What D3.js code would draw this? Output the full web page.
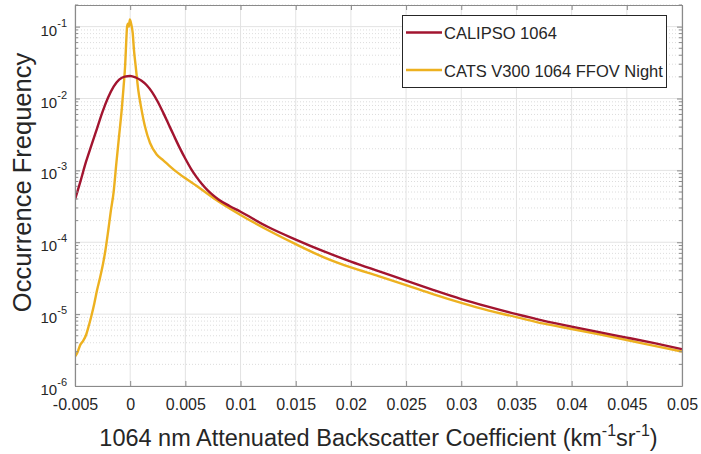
<!DOCTYPE html>
<html>
<head>
<meta charset="utf-8">
<script src="https://cdn.jsdelivr.net/npm/d3@7"></script>
<style>
  html, body { margin: 0; padding: 0; background: #fff; }
  text { font-family: "Liberation Sans", Arial, Helvetica, sans-serif; fill: #262626; }
</style>
</head>
<body>
<svg id="chart" width="701" height="454"></svg>
<script>
// ---------------- data ----------------
const seriesNames = ["CALIPSO 1064", "CATS V300 1064 FFOV Night"];
const seriesColors = ["#A2142F", "#EDB120"];

const calipsoX = [-0.005, -0.0045, -0.004, -0.0035, -0.003, -0.0025, -0.002, -0.0015, -0.001, -0.0005,
  0, 0.0005, 0.001, 0.0015, 0.002, 0.0025, 0.003, 0.0035, 0.004, 0.0045, 0.005, 0.0055, 0.006, 0.0065, 0.007, 0.0075,
  0.008, 0.009, 0.01, 0.0125, 0.015, 0.0175, 0.02, 0.0225, 0.025, 0.0275, 0.03, 0.0325, 0.035, 0.0375,
  0.04, 0.0425, 0.045, 0.0475, 0.05];
const calipsoY = [3.9e-4, 7.1e-4, 1.32e-3, 2.26e-3, 3.85e-3, 6.56e-3, 1.03e-2, 1.46e-2, 1.83e-2, 2.02e-2,
  2.06e-2, 1.96e-2, 1.78e-2, 1.53e-2, 1.22e-2, 9.02e-3, 6.31e-3, 4.32e-3, 2.95e-3, 2.04e-3, 1.45e-3, 1.06e-3, 8.13e-4, 6.46e-4, 5.31e-4, 4.52e-4,
  3.94e-4, 3.2e-4, 2.66e-4, 1.63e-4, 1.09e-4, 7.52e-5, 5.38e-5, 3.96e-5, 2.93e-5, 2.16e-5, 1.62e-5, 1.26e-5, 9.98e-6, 8.07e-6,
  6.7e-6, 5.61e-6, 4.72e-6, 3.95e-6, 3.26e-6];

const catsX = [-0.005, -0.0048, -0.0045, -0.00425, -0.004, -0.00375, -0.0035, -0.00325, -0.003, -0.00275,
  -0.0025, -0.00225, -0.002, -0.00175, -0.0015, -0.00125, -0.001, -0.00075, -0.0006, -0.00045, -0.00035,
  -0.00028, -0.0002, -0.00012, -0.00003, 0.00007, 0.00023, 0.00034, 0.0005, 0.00073, 0.001, 0.00134,
  0.0018, 0.0024, 0.003, 0.0035, 0.004, 0.005, 0.006, 0.0075, 0.01, 0.0125, 0.015, 0.0175, 0.02, 0.0225,
  0.025, 0.0275, 0.03, 0.0325, 0.035, 0.0375, 0.04, 0.0425, 0.045, 0.0475, 0.05];
const catsY = [2.57e-6, 2.88e-6, 3.8e-6, 4.27e-6, 5.13e-6, 6.89e-6, 9.64e-6, 1.41e-5, 2.16e-5, 3.12e-5,
  4.66e-5, 7.62e-5, 1.41e-4, 2.75e-4, 5.0e-4, 1.27e-3, 3.07e-3, 7.45e-3, 1.44e-2, 3.0e-2, 6.6e-2,
  0.1, 0.11, 0.1, 0.126, 0.112, 8.1e-2, 4.8e-2, 2.8e-2, 1.32e-2, 7.4e-3, 4.07e-3,
  2.4e-3, 1.66e-3, 1.38e-3, 1.175e-3, 1.01e-3, 7.76e-4, 6.1e-4, 4.17e-4, 2.4e-4, 1.47e-4, 9.4e-5, 6.22e-5, 4.46e-5, 3.39e-5,
  2.54e-5, 1.88e-5, 1.43e-5, 1.12e-5, 9.1e-6, 7.36e-6, 6.21e-6, 5.24e-6, 4.37e-6, 3.61e-6, 3.02e-6];

const xTicks = [-0.005, 0, 0.005, 0.01, 0.015, 0.02, 0.025, 0.03, 0.035, 0.04, 0.045, 0.05];
const xTickLabels = ["-0.005", "0", "0.005", "0.01", "0.015", "0.02", "0.025", "0.03", "0.035", "0.04", "0.045", "0.05"];
const yTicks = [1e-6, 1e-5, 1e-4, 1e-3, 1e-2, 1e-1];
const yTickExponents = ["-6", "-5", "-4", "-3", "-2", "-1"];
const xDomain = [-0.005, 0.05];
const yDomain = [1e-6, 0.2];
const xLabelMain = "1064 nm Attenuated Backscatter Coefficient (km";
const yLabel = "Occurrence Frequency";

// ---------------- layout ----------------
const W = 701, H = 454;
const L = 75, R = 682, T = 5, B = 386;
const svg = d3.select("#chart");
svg.append("rect").attr("width", W).attr("height", H).attr("fill", "#fff");

const x = d3.scaleLinear().domain(xDomain).range([L, R]);
const y = d3.scaleLog().domain(yDomain).range([B, T]);

// minor y values
const yMinor = [];
for (let e = -6; e <= -1; e++) {
  for (let m = 2; m <= 9; m++) {
    const v = m * Math.pow(10, e);
    if (v <= yDomain[1]) yMinor.push(v);
  }
}

const grid = svg.append("g");
grid.selectAll("line.ymin").data(yMinor).join("line")
  .attr("x1", L).attr("x2", R).attr("y1", d => y(d)).attr("y2", d => y(d))
  .attr("stroke", "#d4d4d4").attr("stroke-width", 0.8).attr("stroke-dasharray", "1,2");
grid.selectAll("line.xmaj").data(xTicks).join("line")
  .attr("y1", T).attr("y2", B).attr("x1", d => x(d)).attr("x2", d => x(d))
  .attr("stroke", "#e3e3e3").attr("stroke-width", 1);
grid.selectAll("line.ymaj").data(yTicks).join("line")
  .attr("x1", L).attr("x2", R).attr("y1", d => y(d)).attr("y2", d => y(d))
  .attr("stroke", "#e3e3e3").attr("stroke-width", 1);

// curves
svg.append("clipPath").attr("id", "clip").append("rect")
  .attr("x", L).attr("y", T).attr("width", R - L).attr("height", B - T);
const line = d3.line().x(d => x(d[0])).y(d => y(d[1])).curve(d3.curveMonotoneX);
const seriesData = [d3.zip(calipsoX, calipsoY), d3.zip(catsX, catsY)];
const plotG = svg.append("g").attr("clip-path", "url(#clip)");
[1, 0].forEach(i => {
  plotG.append("path").datum(seriesData[i]).attr("d", line)
    .attr("fill", "none").attr("stroke", seriesColors[i]).attr("stroke-width", 2.4)
    .attr("stroke-linejoin", "round");
});

// axes
const axisColor = "#8a8a8a";
function styleAxis(g) {
  g.select(".domain").attr("stroke", axisColor).attr("stroke-width", 1.2);
  g.selectAll(".tick line").attr("stroke", axisColor).attr("stroke-width", 1);
}
const xAxis = svg.append("g").attr("transform", `translate(0,${B})`)
  .call(d3.axisBottom(x).tickValues(xTicks).tickFormat((d, i) => xTickLabels[i]).tickSizeInner(-5).tickSizeOuter(0).tickPadding(13));
styleAxis(xAxis);
xAxis.selectAll("text").attr("font-size", 16).attr("fill", "#262626")
  .attr("font-family", '"Liberation Sans", Arial, sans-serif');

const xTop = svg.append("g").attr("transform", `translate(0,${T})`)
  .call(d3.axisTop(x).tickValues(xTicks).tickFormat("").tickSizeInner(-5).tickSizeOuter(0));
styleAxis(xTop);

const yAxis = svg.append("g").attr("transform", `translate(${L},0)`)
  .call(d3.axisLeft(y).tickValues(yTicks).tickFormat("").tickSizeInner(-5).tickSizeOuter(0));
styleAxis(yAxis);
const yRight = svg.append("g").attr("transform", `translate(${R},0)`)
  .call(d3.axisRight(y).tickValues(yTicks).tickFormat("").tickSizeInner(-5).tickSizeOuter(0));
styleAxis(yRight);
// minor ticks y
[[L, 1], [R, -1]].forEach(([px, dir]) => {
  svg.append("g").selectAll("line").data(yMinor).join("line")
    .attr("x1", px).attr("x2", px + dir * 3).attr("y1", d => y(d)).attr("y2", d => y(d))
    .attr("stroke", axisColor).attr("stroke-width", 1);
});

// y tick labels 10^e
const yl = svg.append("g");
yTicks.forEach((v, i) => {
  const t = yl.append("text").attr("x", 67).attr("y", y(v) + 9).attr("text-anchor", "end");
  t.append("tspan").attr("font-size", 15).text("10");
  t.append("tspan").attr("font-size", 11).attr("dy", -9).text(yTickExponents[i]);
});

// x label
const xl = svg.append("text").attr("x", 378.5).attr("y", 446).attr("text-anchor", "middle")
  .attr("font-size", 23.5);
xl.append("tspan").text(xLabelMain);
xl.append("tspan").attr("font-size", 16).attr("dy", -10).text("-1");
xl.append("tspan").attr("dy", 10).text("sr");
xl.append("tspan").attr("font-size", 16).attr("dy", -10).text("-1");
xl.append("tspan").attr("dy", 10).text(")");

// y label
svg.append("text").attr("transform", `translate(31,${(52 + 313) / 2}) rotate(-90)`)
  .attr("text-anchor", "middle").attr("font-size", 25.5).text(yLabel);

// legend
const lg = svg.append("g");
lg.append("rect").attr("x", 402.5).attr("y", 15.5).attr("width", 264).attr("height", 72)
  .attr("fill", "#fff").attr("stroke", "#262626").attr("stroke-width", 1);
seriesNames.forEach((name, i) => {
  const cy = 32.5 + i * 37.5;
  lg.append("line").attr("x1", 406).attr("x2", 442).attr("y1", cy).attr("y2", cy)
    .attr("stroke", seriesColors[i]).attr("stroke-width", 2.4);
  lg.append("text").attr("x", 444).attr("y", cy + 6.5).attr("font-size", 16.5).text(name);
});
</script>
</body>
</html>
